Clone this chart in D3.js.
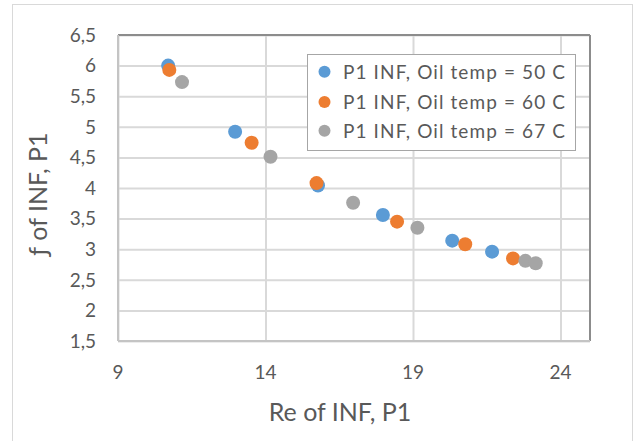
<!DOCTYPE html>
<html><head><meta charset="utf-8">
<script src="https://cdn.jsdelivr.net/npm/d3@7"></script>
<style>
html,body{margin:0;padding:0;background:#fff;}
svg{display:block;font-family:Lato,"Open Sans",sans-serif;}
</style></head>
<body><svg id="chart" width="637" height="441"></svg>
<script>
// Data
const seriesNames = ["P1 INF, Oil temp = 50 C", "P1 INF, Oil temp = 60 C", "P1 INF, Oil temp = 67 C"];
const seriesColors = ["#5B9BD5", "#ED7D31", "#A5A5A5"];
const re50 = [10.70, 12.97, 15.78, 17.98, 20.33, 21.68];
const f50  = [6.00, 4.92, 4.04, 3.56, 3.14, 2.96];
const re60 = [10.74, 13.53, 15.73, 18.46, 20.77, 22.39];
const f60  = [5.93, 4.74, 4.08, 3.45, 3.08, 2.85];
const re67 = [11.17, 14.17, 16.97, 19.15, 22.81, 23.16];
const f67  = [5.73, 4.51, 3.76, 3.35, 2.81, 2.77];
const xTicks = [9, 14, 19, 24];
const yTicks = [1.5, 2, 2.5, 3, 3.5, 4, 4.5, 5, 5.5, 6, 6.5];
const xTitle = "Re of INF, P1";
const yTitle = "ƒ of INF, P1";

const seriesX = [re50, re60, re67];
const seriesY = [f50, f60, f67];

const svg = d3.select("#chart");
const m = {left:118, top:35, right:590, bottom:341};

// chart area border
svg.append("rect").attr("x",12.5).attr("y",4.5).attr("width",620).attr("height",445)
  .attr("fill","#fff").attr("stroke","#d9d9d9").attr("stroke-width",1);

const x = d3.scaleLinear().domain([9,25]).range([m.left,m.right]);
const y = d3.scaleLinear().domain([1.5,6.5]).range([m.bottom,m.top]);

const textColor = "#595959";

// gridlines via axes
const gy = svg.append("g").attr("transform",`translate(${m.left},0)`)
  .call(d3.axisLeft(y).tickValues(yTicks).tickSize(-(m.right-m.left)).tickFormat(""));
gy.select(".domain").remove();
gy.selectAll("line").attr("stroke","#d9d9d9").attr("stroke-width",2);

const gx = svg.append("g").attr("transform",`translate(0,${m.bottom})`)
  .call(d3.axisBottom(x).tickValues(xTicks).tickSize(-(m.bottom-m.top)).tickFormat(""));
gx.select(".domain").remove();
gx.selectAll("line").attr("stroke","#d9d9d9").attr("stroke-width",2);

// plot border
svg.append("line").attr("x1",m.left).attr("x2",m.right).attr("y1",m.top).attr("y2",m.top).attr("stroke","#8c8c8c").attr("stroke-width",2);
svg.append("line").attr("x1",m.right).attr("x2",m.right).attr("y1",m.top).attr("y2",m.bottom).attr("stroke","#8c8c8c").attr("stroke-width",2);
svg.append("line").attr("x1",m.left).attr("x2",m.left).attr("y1",m.top).attr("y2",m.bottom).attr("stroke","#c4c4c4").attr("stroke-width",2);
svg.append("line").attr("x1",m.left).attr("x2",m.right).attr("y1",m.bottom).attr("y2",m.bottom).attr("stroke","#c4c4c4").attr("stroke-width",2);

// tick labels
const fmt = d => String(d).replace(".", ",");
svg.append("g").selectAll("text").data(yTicks).join("text")
  .attr("x",96).attr("y",d=>y(d)).attr("dy","0.36em").attr("text-anchor","end")
  .attr("fill",textColor).attr("font-size",19).text(fmt);
svg.append("g").selectAll("text").data(xTicks).join("text")
  .attr("x",d=>x(d)).attr("y",372).attr("dy","0.36em").attr("text-anchor","middle")
  .attr("fill",textColor).attr("font-size",19).text(fmt);

// axis titles
svg.append("text").attr("x",340).attr("y",421).attr("text-anchor","middle")
  .attr("fill",textColor).attr("font-size",25).text(xTitle);
svg.append("text").attr("transform","translate(47,194) rotate(-90)").attr("text-anchor","middle")
  .attr("fill",textColor).attr("font-size",25).text(yTitle);

// points
seriesX.forEach((xs,i) => {
  const pts = xs.map((v,j)=>({x:v, y:seriesY[i][j]}));
  svg.append("g").selectAll("circle").data(pts).join("circle")
    .attr("cx",d=>x(d.x)).attr("cy",d=>y(d.y)).attr("r",7)
    .attr("fill",seriesColors[i]);
});

// legend
const lg = svg.append("g");
lg.append("rect").attr("x",307.5).attr("y",54.5).attr("width",268).attr("height",96)
  .attr("fill","#fff").attr("stroke","#a6a6a6").attr("stroke-width",1);
const rows = [71.7, 102, 130.7];
seriesNames.forEach((s,i)=>{
  lg.append("circle").attr("cx",324.5).attr("cy",rows[i]).attr("r",6).attr("fill",seriesColors[i]);
  lg.append("text").attr("x",343).attr("y",rows[i]).attr("dy","0.36em")
    .attr("fill",textColor).attr("font-size",19).attr("textLength",222).attr("lengthAdjust","spacing").text(s);
});
</script></body></html>
